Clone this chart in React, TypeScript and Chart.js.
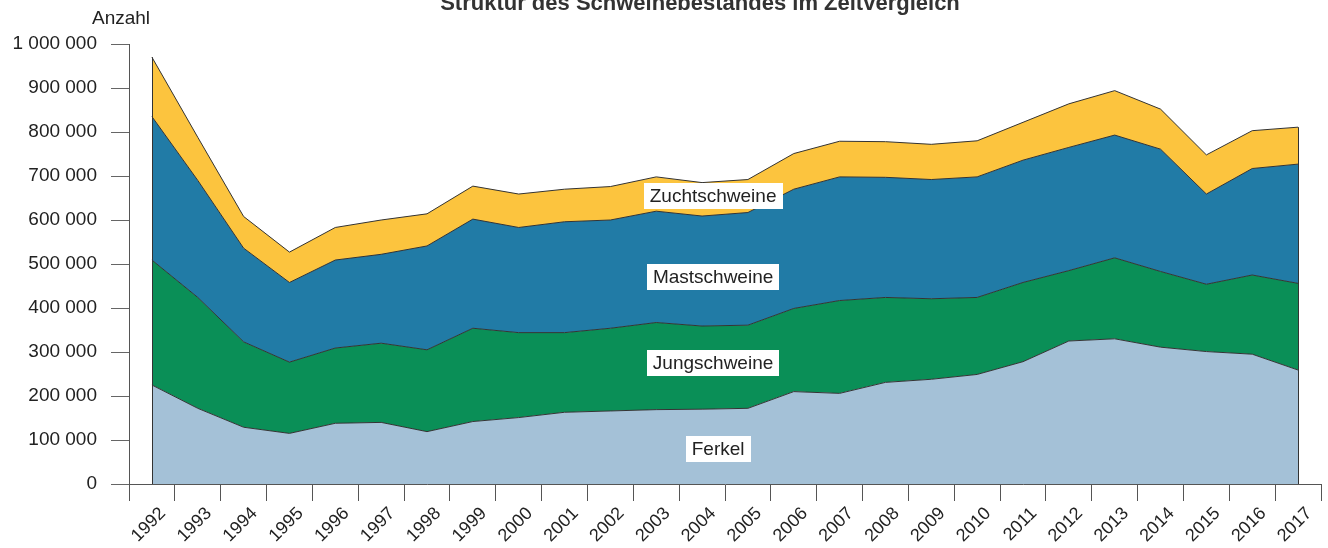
import React, { useEffect, useRef } from "react";
import { Chart, registerables } from "chart.js";

Chart.register(...registerables);

const years = [
  "1992", "1993", "1994", "1995", "1996", "1997", "1998", "1999", "2000", "2001",
  "2002", "2003", "2004", "2005", "2006", "2007", "2008", "2009", "2010", "2011",
  "2012", "2013", "2014", "2015", "2016", "2017",
];

const ferkel = [
  225000, 172000, 129000, 115000, 138000, 140000, 119000, 142000, 151000, 163000,
  166000, 169000, 170000, 172000, 210000, 206000, 231000, 238000, 249000, 278000,
  325000, 330000, 311000, 301000, 295000, 259000,
];
const jungschweine = [
  284000, 252000, 194000, 162000, 171000, 180000, 186000, 212000, 193000, 181000,
  188000, 198000, 189000, 189000, 189000, 211000, 193000, 183000, 175000, 180000,
  160000, 184000, 172000, 153000, 180000, 197000,
];
const mastschweine = [
  326000, 266000, 213000, 181000, 200000, 202000, 236000, 248000, 239000, 252000,
  246000, 253000, 250000, 256000, 271000, 281000, 273000, 271000, 274000, 278000,
  280000, 279000, 278000, 205000, 242000, 271000,
];
const zuchtschweine = [
  135000, 98000, 72000, 69000, 74000, 78000, 73000, 75000, 76000, 74000,
  76000, 78000, 76000, 75000, 81000, 81000, 81000, 80000, 82000, 86000,
  99000, 101000, 91000, 89000, 86000, 84000,
];

const seriesNames = ["Ferkel", "Jungschweine", "Mastschweine", "Zuchtschweine"];
const seriesColors = ["#a4c1d7", "#0a8f57", "#217ba6", "#fcc43e"];

// in-chart labels: category index (fractional) and value position
const labelIndex = [12.35, 12.24, 12.24, 12.24];
const labelValue = [79500, 275000, 470000, 654500];

const yTicks = [0, 100000, 200000, 300000, 400000, 500000, 600000, 700000, 800000, 900000, 1000000];

const titleText = "Struktur des Schweinebestandes im Zeitvergleich";
const yAxisTitle = "Anzahl";

const FONT = "'Liberation Sans', Arial, Helvetica, sans-serif";

function fmt(v: number): string {
  return String(v).replace(/\B(?=(\d{3})+(?!\d))/g, " ");
}

const overlayPlugin = {
  id: "overlay",
  afterDatasetsDraw(chart: any) {
    const ctx = chart.ctx;
    const x = chart.scales.x;
    const y = chart.scales.y;
    const totals = years.map(
      (_, i) => ferkel[i] + jungschweine[i] + mastschweine[i] + zuchtschweine[i]
    );
    ctx.save();
    ctx.strokeStyle = "#333";
    ctx.lineWidth = 1;
    [0, years.length - 1].forEach((i) => {
      const px = Math.round(x.getPixelForValue(i)) + 0.5;
      ctx.beginPath();
      ctx.moveTo(px, y.getPixelForValue(0));
      ctx.lineTo(px, y.getPixelForValue(totals[i]));
      ctx.stroke();
    });
    ctx.font = `19px ${FONT}`;
    ctx.textAlign = "center";
    ctx.textBaseline = "middle";
    seriesNames.forEach((name, k) => {
      const cx = x.getPixelForValue(labelIndex[k]);
      const cy = y.getPixelForValue(labelValue[k]);
      const w = ctx.measureText(name).width + 12;
      const h = 26;
      ctx.fillStyle = "#ffffff";
      ctx.fillRect(Math.round(cx - w / 2), Math.round(cy - h / 2), Math.round(w), h);
      ctx.fillStyle = "#222";
      ctx.fillText(name, cx, cy + 1);
    });
    ctx.restore();
  },
  afterDraw(chart: any) {
    const ctx = chart.ctx;
    ctx.save();
    ctx.fillStyle = "#333";
    ctx.font = `bold 22px ${FONT}`;
    ctx.textAlign = "center";
    ctx.textBaseline = "alphabetic";
    ctx.fillText(titleText, 700, 10);
    ctx.fillStyle = "#222";
    ctx.font = `19px ${FONT}`;
    ctx.textAlign = "left";
    ctx.textBaseline = "middle";
    ctx.fillText(yAxisTitle, 92, 19);
    ctx.restore();
  },
};

export default function App() {
  const ref = useRef<HTMLCanvasElement | null>(null);

  useEffect(() => {
    if (!ref.current) return;
    const data = [ferkel, jungschweine, mastschweine, zuchtschweine];
    const chart = new Chart(ref.current, {
      type: "line",
      data: {
        labels: years,
        datasets: data.map((d, k) => ({
          label: seriesNames[k],
          data: d,
          backgroundColor: seriesColors[k],
          borderColor: "#333",
          borderWidth: 1,
          pointRadius: 0,
          tension: 0,
          fill: k === 0 ? "origin" : "-1",
        })),
      },
      options: {
        animation: false,
        responsive: true,
        maintainAspectRatio: false,
        layout: { padding: { top: 44, right: 7, bottom: 0, left: 0 } },
        plugins: {
          legend: { display: false },
          tooltip: { enabled: false },
          title: { display: false },
        },
        elements: { line: { borderJoinStyle: "miter" } },
        scales: {
          x: {
            type: "category",
            offset: true,
            grid: {
              offset: true,
              drawOnChartArea: false,
              drawTicks: true,
              tickLength: 17,
              color: "#555",
            },
            border: { display: true, color: "#555", width: 1 },
            ticks: {
              autoSkip: false,
              minRotation: 45,
              maxRotation: 45,
              padding: 2,
              labelOffset: 11,
              color: "#222",
              font: { family: FONT, size: 18 },
            },
            afterFit: (s: any) => {
              s.height = 64;
            },
          },
          y: {
            stacked: true,
            min: 0,
            max: 1000000,
            afterBuildTicks: (s: any) => {
              s.ticks = yTicks.map((v) => ({ value: v }));
            },
            grid: {
              drawOnChartArea: false,
              drawTicks: true,
              tickLength: 18,
              color: "#666",
            },
            border: { display: true, color: "#555", width: 1 },
            ticks: {
              padding: 14,
              color: "#222",
              font: { family: FONT, size: 19 },
              callback: (v: any) => fmt(Number(v)),
            },
            afterFit: (s: any) => {
              s.width = 129;
            },
          },
        },
      },
      plugins: [overlayPlugin],
    });
    return () => chart.destroy();
  }, []);

  return (
    <div style={{ position: "absolute", left: 0, top: 0, width: 1328, height: 548 }}>
      <canvas ref={ref} />
    </div>
  );
}
